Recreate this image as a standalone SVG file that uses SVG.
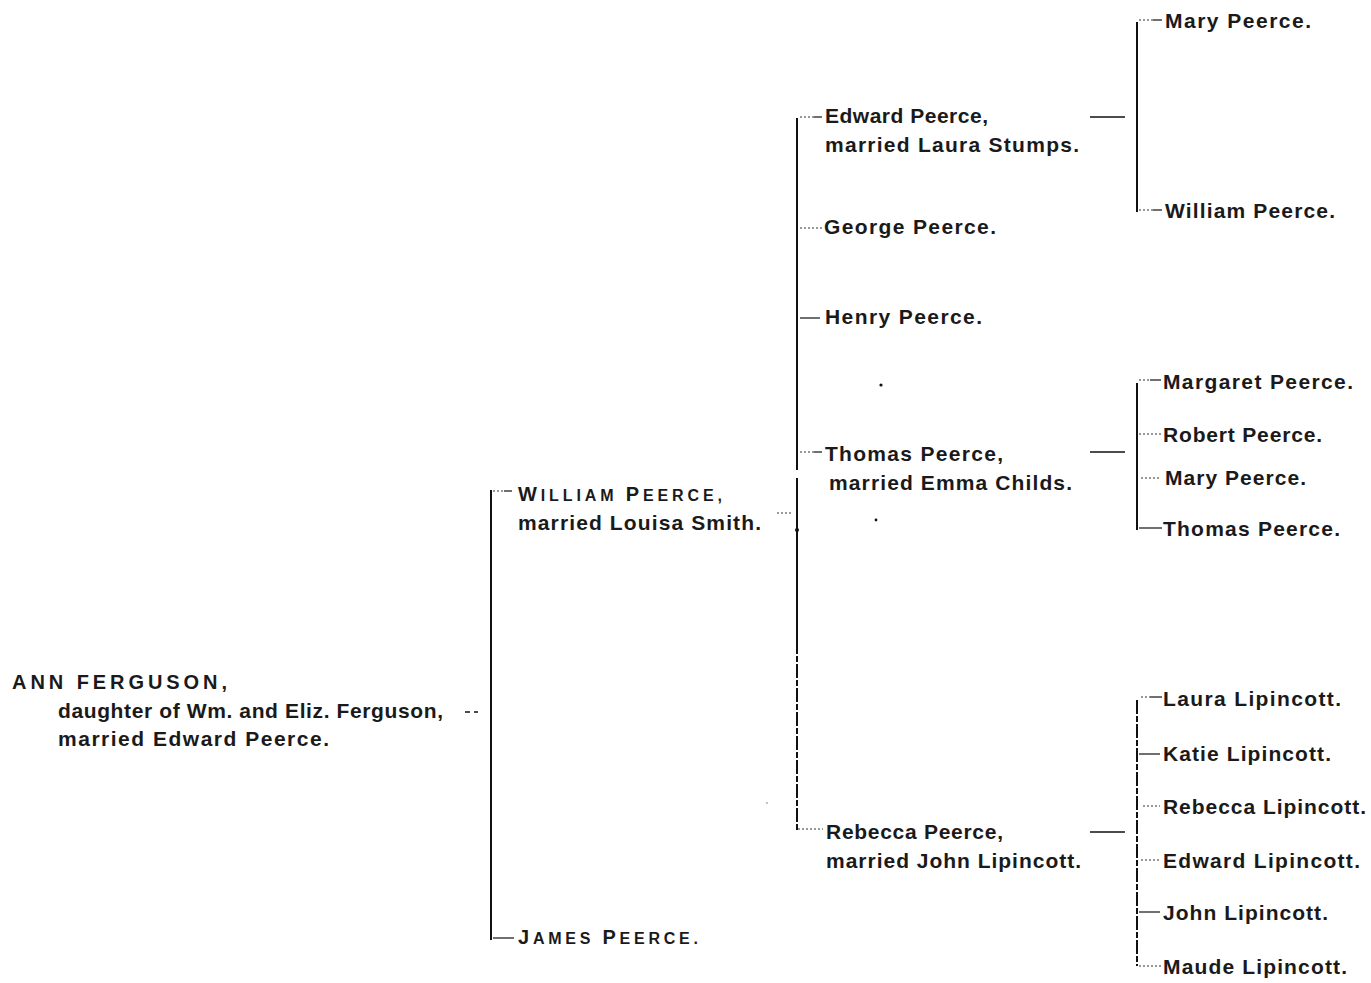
<svg xmlns="http://www.w3.org/2000/svg" width="1371" height="983" viewBox="0 0 1371 983">
<style>
  .t { font-family: "Liberation Sans", Arial, sans-serif; font-size: 21px; font-weight: bold; fill: #1a1a1a; }
  .sc { font-size: 16px; }
  .bc { font-size: 20px; }
  .v { stroke: #111; stroke-width: 2; fill: none; }
  .vd { stroke: #111; stroke-width: 2; fill: none; stroke-dasharray: 14 2 6 2; }
  .tk { stroke: #222; stroke-width: 1.3; fill: none; }
  .td { stroke: #333; stroke-width: 1.2; fill: none; stroke-dasharray: 2 2; }
  .dash { stroke: #111; stroke-width: 1.6; fill: none; }
</style>
<rect width="1371" height="983" fill="#fff"/>

<g id="connectors">
  <!-- Ann -> children -->
  <path class="dash" d="M465 712 h5 M474 712 h4"/>
  <path class="v" d="M491 490 V940"/>
  <path class="td" d="M493 491 H504"/>
  <path class="tk" d="M504 491 H512"/>
  <path class="tk" d="M493 938 H514"/>
  <!-- William -> children -->
  <path class="td" d="M777 513 H791"/>
  <path class="v" d="M797 118 V470"/>
  <path class="v" d="M797 478 V640"/>
  <path class="vd" d="M797 640 V830"/>
  <circle cx="797" cy="530" r="2" fill="#111"/>
  <path class="td" d="M800 117 H814"/>
  <path class="tk" d="M814 117 H822"/>
  <path class="td" d="M800 228 H822"/>
  <path class="tk" d="M800 318 H820"/>
  <path class="td" d="M800 452 H814"/>
  <path class="tk" d="M814 452 H822"/>
  <path class="td" d="M798 829 H823"/>
  <!-- Edward -> children -->
  <path class="dash" d="M1090 117 H1125"/>
  <path class="v" d="M1137 22 V212"/>
  <path class="td" d="M1139 20 H1153"/>
  <path class="tk" d="M1153 20 H1162"/>
  <path class="td" d="M1139 210 H1153"/>
  <path class="tk" d="M1153 210 H1162"/>
  <!-- Thomas -> children -->
  <path class="dash" d="M1090 452 H1125"/>
  <path class="v" d="M1137 383 V530"/>
  <path class="td" d="M1139 380 H1150"/>
  <path class="tk" d="M1150 380 H1161"/>
  <path class="td" d="M1139 434 H1161"/>
  <path class="td" d="M1141 478 H1160"/>
  <path class="tk" d="M1139 528 H1162"/>
  <!-- Rebecca -> children -->
  <path class="dash" d="M1090 832 H1125"/>
  <path class="vd" d="M1137 700 V966"/>
  <path class="td" d="M1141 697 H1150"/>
  <path class="tk" d="M1150 697 H1162"/>
  <path class="tk" d="M1139 754 H1160"/>
  <path class="td" d="M1143 806 H1160"/>
  <path class="td" d="M1141 860 H1160"/>
  <path class="tk" d="M1139 912 H1160"/>
  <path class="td" d="M1139 966 H1162"/>
  <!-- stray specks -->
  <circle cx="881" cy="385" r="1.6" fill="#111"/>
  <circle cx="876" cy="520" r="1.4" fill="#111"/>
  <circle cx="767" cy="803" r="0.8" fill="#777"/>
</g>

<g id="ann-ferguson">
  <text class="t" x="12" y="689" textLength="215" lengthAdjust="spacing" style="font-size:20px">ANN FERGUSON,</text>
  <text class="t" x="58" y="718" textLength="385" lengthAdjust="spacing">daughter of Wm. and Eliz. Ferguson,</text>
  <text class="t" x="58" y="746" textLength="271" lengthAdjust="spacing">married Edward Peerce.</text>
</g>

<g id="william-peerce">
  <text class="t" x="518" y="501" textLength="204" lengthAdjust="spacing"><tspan class="bc">W</tspan><tspan class="sc">ILLIAM </tspan><tspan class="bc">P</tspan><tspan class="sc">EERCE,</tspan></text>
  <text class="t" x="518" y="530" textLength="243" lengthAdjust="spacing">married Louisa Smith.</text>
</g>

<g id="james-peerce">
  <text class="t" x="518" y="944" textLength="180" lengthAdjust="spacing"><tspan class="bc">J</tspan><tspan class="sc">AMES </tspan><tspan class="bc">P</tspan><tspan class="sc">EERCE.</tspan></text>
</g>

<g id="edward-peerce">
  <text class="t" x="825" y="123" textLength="163" lengthAdjust="spacing">Edward Peerce,</text>
  <text class="t" x="825" y="152" textLength="254" lengthAdjust="spacing">married Laura Stumps.</text>
</g>
<g id="george-peerce"><text class="t" x="824" y="234" textLength="172" lengthAdjust="spacing">George Peerce.</text></g>
<g id="henry-peerce"><text class="t" x="825" y="324" textLength="157" lengthAdjust="spacing">Henry Peerce.</text></g>
<g id="thomas-peerce">
  <text class="t" x="825" y="461" textLength="178" lengthAdjust="spacing">Thomas Peerce,</text>
  <text class="t" x="829" y="490" textLength="243" lengthAdjust="spacing">married Emma Childs.</text>
</g>
<g id="rebecca-peerce">
  <text class="t" x="826" y="839" textLength="177" lengthAdjust="spacing">Rebecca Peerce,</text>
  <text class="t" x="826" y="868" textLength="255" lengthAdjust="spacing">married John Lipincott.</text>
</g>

<g id="mary-peerce-1"><text class="t" x="1165" y="28" textLength="146" lengthAdjust="spacing">Mary Peerce.</text></g>
<g id="william-peerce-2"><text class="t" x="1165" y="218" textLength="170" lengthAdjust="spacing">William Peerce.</text></g>

<g id="margaret-peerce"><text class="t" x="1163" y="389" textLength="190" lengthAdjust="spacing">Margaret Peerce.</text></g>
<g id="robert-peerce"><text class="t" x="1163" y="442" textLength="159" lengthAdjust="spacing">Robert Peerce.</text></g>
<g id="mary-peerce-2"><text class="t" x="1165" y="485" textLength="141" lengthAdjust="spacing">Mary Peerce.</text></g>
<g id="thomas-peerce-2"><text class="t" x="1163" y="536" textLength="177" lengthAdjust="spacing">Thomas Peerce.</text></g>

<g id="laura-lipincott"><text class="t" x="1163" y="706" textLength="178" lengthAdjust="spacing">Laura Lipincott.</text></g>
<g id="katie-lipincott"><text class="t" x="1163" y="761" textLength="168" lengthAdjust="spacing">Katie Lipincott.</text></g>
<g id="rebecca-lipincott"><text class="t" x="1163" y="814" textLength="203" lengthAdjust="spacing">Rebecca Lipincott.</text></g>
<g id="edward-lipincott"><text class="t" x="1163" y="868" textLength="197" lengthAdjust="spacing">Edward Lipincott.</text></g>
<g id="john-lipincott"><text class="t" x="1163" y="920" textLength="165" lengthAdjust="spacing">John Lipincott.</text></g>
<g id="maude-lipincott"><text class="t" x="1163" y="974" textLength="184" lengthAdjust="spacing">Maude Lipincott.</text></g>
</svg>
